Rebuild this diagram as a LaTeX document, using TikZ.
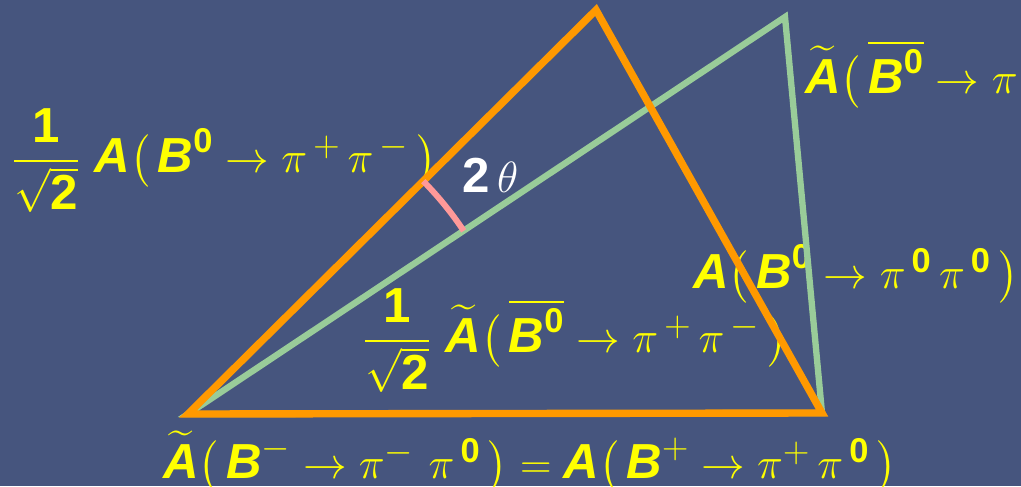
\documentclass[tikz,border=0pt]{standalone}
\usepackage{amsmath}
\usepackage{fontspec}
\setsansfont{Liberation Sans}
\usepackage{tikz}
\usetikzlibrary{calc}
\definecolor{slidebg}{HTML}{46557E}
\definecolor{sideorg}{HTML}{FF9900}
\definecolor{sidegrn}{HTML}{99CC99}
\definecolor{anglpink}{HTML}{FF9999}
\definecolor{amplyel}{HTML}{FFFF00}
\newcommand{\sfb}[1]{\text{\sffamily\bfseries\itshape #1}}
\newcommand{\sfn}[1]{\text{\sffamily\bfseries #1}}
\newcommand{\gp}{\mkern3mu}
\newcommand{\fgp}{\mkern6mu}

\begin{document}
\begin{tikzpicture}[
    orgline/.style = {draw=sideorg, line width=4.2pt, line join=miter},
    grnline/.style = {draw=sidegrn, line width=3.6pt, line join=miter},
    arcline/.style = {draw=anglpink, line width=3.4pt},
    amp/.style     = {anchor=base west, inner sep=0pt, text=amplyel,
                      font=\fontsize{28}{32}\selectfont},
    angl/.style    = {amp, text=white}
  ]

  %% background
  \clip (0,0) rectangle (20.42,9.72);
  \fill[slidebg] (0,0) rectangle (20.42,9.72);

  %% corners
  \coordinate (bl)   at (3.76,1.44);
  \coordinate (br)   at (16.44,1.46);
  \coordinate (otop) at (11.92,9.52);
  \coordinate (gtop) at (15.70,9.38);

  %% amplitudes
  \node[amp] (apm) at (0.24,6.28)
    {$\dfrac{\sfn{1}}{\sqrt{\sfn{2}}}\fgp\sfb{A}\bigl(\gp\sfb{B}^{\sfn{0}}\rightarrow\pi^{\,+}\gp\pi^{\,-}\gp\bigr)$};
  \node[amp] (abar00) at (16.10,7.86)
    {$\widetilde{\sfb{A}}\bigl(\gp\overline{\sfb{B}^{\sfn{0}}}\rightarrow\pi^{\,\sfn{0}}\gp\pi^{\,\sfn{0}}\gp\bigr)$};
  \node[amp] (abarpm) at (7.26,2.68)
    {$\dfrac{\sfn{1}}{\sqrt{\sfn{2}}}\fgp\widetilde{\sfb{A}}\bigl(\gp\overline{\sfb{B}^{\sfn{0}}}\rightarrow\pi^{\,+}\gp\pi^{\,-}\gp\bigr)$};
  \node[amp] (a00) at (13.86,3.96)
    {$\sfb{A}\bigl(\gp\sfb{B}^{\sfn{0}}\rightarrow\pi^{\,\sfn{0}}\gp\pi^{\,\sfn{0}}\gp\bigr)$};
  \node[amp] (apz) at (3.26,0.16)
    {$\widetilde{\sfb{A}}\bigl(\gp\sfb{B}^{-}\rightarrow\pi^{-}\fgp\pi^{\,\sfn{0}}\gp\bigr)=\sfb{A}\bigl(\gp\sfb{B}^{+}\rightarrow\pi^{+}\gp\pi^{\,\sfn{0}}\gp\bigr)$};
  \node[angl] (twoth) at (9.24,5.88) {$\sfn{2}\,\theta$};

  %% triangles
  \draw[grnline] (bl) -- (gtop) -- (br) -- cycle;
  \draw[orgline] (bl) -- (otop) -- (br) -- cycle;

  %% angle
  \draw[arcline] ($(bl)+(33.6:6.62)$) arc (33.6:44.7:6.62);

\end{tikzpicture}
\end{document}
